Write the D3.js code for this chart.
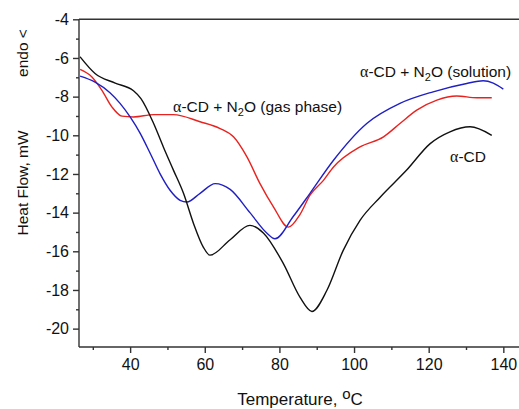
<!DOCTYPE html>
<html>
<head>
<meta charset="utf-8">
<script src="https://cdn.jsdelivr.net/npm/d3@7"></script>
<style>
  body { margin: 0; background: #fff; }
  text { font-family: "Liberation Sans", Arial, sans-serif; fill: #111; }
</style>
</head>
<body>
<script>
// temperature (C) and heat flow (mW)
var tempCD    = [26.6, 30.6, 36.0, 40.9, 42.9, 46.3, 48.9, 51.6, 54.3, 57.0, 59.6, 61.4, 66.8, 72.1, 75.7, 81.1, 85.5, 88.7, 92.7, 97.1, 101.6, 107.0, 114.1, 120.4, 125.7, 131.1, 136.9];
var flowCD    = [-5.94, -6.8, -7.3, -7.7, -8.1, -9.39, -10.6, -11.8, -13.0, -14.57, -15.78, -16.2, -15.4, -14.66, -15.05, -16.65, -18.37, -19.11, -18.03, -15.95, -14.4, -13.2, -11.8, -10.43, -9.82, -9.56, -10.0];

var tempSol   = [26.6, 30.6, 34.6, 37.3, 40.0, 42.7, 45.4, 48.0, 50.7, 53.4, 55.2, 58.75, 62.8, 66.8, 72.1, 76.6, 78.8, 83.7, 88.2, 94.5, 103.4, 112.3, 121.2, 130.2, 134.6, 137.3, 140.0];
var flowSol   = [-6.94, -7.25, -7.8, -8.35, -9.05, -9.9, -10.94, -11.98, -12.84, -13.36, -13.45, -13.0, -12.5, -12.8, -14.0, -15.05, -15.35, -14.2, -13.0, -11.29, -9.39, -8.35, -7.75, -7.32, -7.18, -7.3, -7.61];

var tempGas   = [26.6, 29.7, 32.4, 35.1, 37.8, 40.9, 46.3, 51.6, 58.75, 64.1, 67.7, 71.3, 74.8, 78.4, 82.4, 85.5, 88.2, 91.8, 94.5, 101.6, 107.9, 112.3, 116.8, 122.2, 127.5, 132.9, 136.9];
var flowGas   = [-6.59, -6.97, -7.66, -8.53, -9.01, -9.05, -8.93, -8.93, -9.3, -9.65, -10.08, -11.12, -12.5, -13.7, -14.75, -14.1, -13.1, -12.33, -11.64, -10.6, -10.08, -9.39, -8.7, -8.18, -7.97, -8.06, -8.06];

var xMajor = [40, 60, 80, 100, 120, 140];
var xMinor = [30, 50, 70, 90, 110, 130];
var yMajor = [-20, -18, -16, -14, -12, -10, -8, -6, -4];
var yMinor = [-19, -17, -15, -13, -11, -9, -7, -5];

var width = 519, height = 409;
var plotLeft = 79, plotRight = 519, plotTop = 19.3, plotBottom = 347;

var svg = d3.select("body").append("svg")
  .attr("width", width)
  .attr("height", height);

var x = d3.scaleLinear().domain([26.3, 144.2]).range([plotLeft, plotRight]);
var y = d3.scaleLinear().domain([-20.95, -4]).range([plotBottom, plotTop]);

// frame lines
var axisColor = "#333";
svg.append("line").attr("x1", plotLeft).attr("x2", plotRight).attr("y1", plotTop).attr("y2", plotTop)
  .attr("stroke", axisColor).attr("stroke-width", 1.4);

var xAxis = svg.append("g").attr("transform", "translate(0," + plotBottom + ")")
  .call(d3.axisBottom(x).tickValues(xMajor).tickSize(6).tickPadding(6).tickFormat(d3.format("d")));
var xAxisMinor = svg.append("g").attr("transform", "translate(0," + plotBottom + ")")
  .call(d3.axisBottom(x).tickValues(xMinor).tickSize(3).tickFormat(""));

var yAxis = svg.append("g").attr("transform", "translate(" + plotLeft + ",0)")
  .call(d3.axisLeft(y).tickValues(yMajor).tickSize(6).tickPadding(4).tickFormat(function(d){ return d; }));
var yAxisMinor = svg.append("g").attr("transform", "translate(" + plotLeft + ",0)")
  .call(d3.axisLeft(y).tickValues(yMinor).tickSize(3).tickFormat(""));

[xAxis, xAxisMinor, yAxis, yAxisMinor].forEach(function(g){
  g.select(".domain").remove();
  g.selectAll("line").attr("stroke", axisColor).attr("stroke-width", 1.4);
  g.selectAll("text").style("font-size", "16px").attr("fill", "#111")
    .style("font-family", "'Liberation Sans', Arial, sans-serif");
});

svg.append("line").attr("x1", plotLeft).attr("x2", plotRight).attr("y1", plotBottom).attr("y2", plotBottom)
  .attr("stroke", axisColor).attr("stroke-width", 1.4);
svg.append("line").attr("x1", plotLeft).attr("x2", plotLeft).attr("y1", plotTop).attr("y2", plotBottom)
  .attr("stroke", axisColor).attr("stroke-width", 1.4);

// curves
var line = d3.line()
  .x(function(d){ return x(d[0]); })
  .y(function(d){ return y(d[1]); })
  .curve(d3.curveMonotoneX);

var series = [
  {t: tempGas, f: flowGas, color: "#e8231f"},
  {t: tempSol, f: flowSol, color: "#1f1fc4"},
  {t: tempCD,  f: flowCD,  color: "#111111"}
];

series.forEach(function(s){
  var pts = s.t.map(function(t, i){ return [t, s.f[i]]; });
  svg.append("path")
    .datum(pts)
    .attr("d", line)
    .attr("fill", "none")
    .attr("stroke", s.color)
    .attr("stroke-width", 1.4);
});

// axis titles
svg.append("text")
  .attr("transform", "translate(28,183) rotate(-90)")
  .attr("text-anchor", "middle")
  .style("font-size", "15.5px")
  .text("Heat Flow, mW");

svg.append("text")
  .attr("transform", "translate(28,53) rotate(-90)")
  .attr("text-anchor", "middle")
  .style("font-size", "15.5px")
  .text("endo <");

var xt = svg.append("text")
  .attr("x", 300).attr("y", 405)
  .attr("text-anchor", "middle")
  .style("font-size", "17px");
xt.append("tspan").text("Temperature, ");
xt.append("tspan").attr("dy", -6).style("font-size", "15px").text("o");
xt.append("tspan").attr("dy", 6).text("C");

// curve labels
var labelN2O = function(xp, yp, tail){
  var t = svg.append("text").attr("x", xp).attr("y", yp).style("font-size", "15.5px");
  t.append("tspan").style("font-family", "'Liberation Serif', serif").style("font-size", "16px").text("\u03b1");
  t.append("tspan").text("-CD + N");
  t.append("tspan").attr("dy", 4).style("font-size", "11px").text("2");
  t.append("tspan").attr("dy", -4).text("O " + tail);
};
labelN2O(173, 111.5, "(gas phase)");
labelN2O(360, 76.5, "(solution)");

var tcd = svg.append("text").attr("x", 450).attr("y", 161.5).style("font-size", "15.5px");
tcd.append("tspan").style("font-family", "'Liberation Serif', serif").style("font-size", "16px").text("\u03b1");
tcd.append("tspan").text("-CD");
</script>
</body>
</html>
